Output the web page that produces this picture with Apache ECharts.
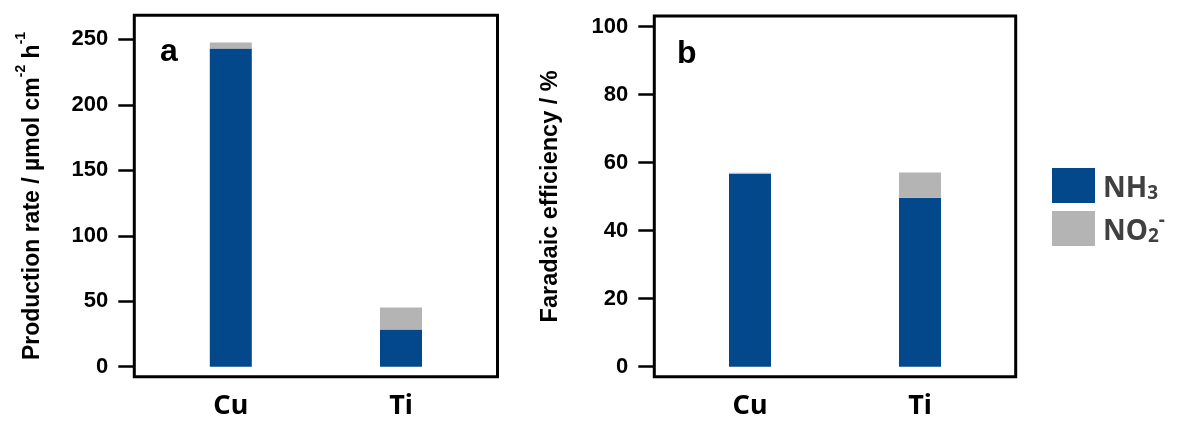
<!DOCTYPE html>
<html>
<head>
<meta charset="utf-8">
<script src="https://cdn.jsdelivr.net/npm/echarts@6/dist/echarts.min.js"></script>
<style>
html,body{margin:0;padding:0;background:#fff;}
#chart{width:1181px;height:422px;}
</style>
</head>
<body>
<div id="chart"></div>
<script>
// ---- data ----
const categories = ['Cu', 'Ti'];
const rateNH3 = [243, 28.5];      // µmol cm-2 h-1
const rateNO2 = [4.5, 16.8];
const feNH3 = [56.7, 49.7];       // %
const feNO2 = [0.3, 7.4];
const rateTicks = [0, 50, 100, 150, 200, 250];
const feTicks = [0, 20, 40, 60, 80, 100];
const seriesNames = ['NH3', 'NO2'];

// ---- style ----
const BLUE = '#03488B';
const GRAY = '#B4B4B4';
const AX_FONT = "'Liberation Sans', Arial, sans-serif";
const CAT_FONT = "'Noto Sans', 'Open Sans', sans-serif";

// frame axis (ticks, labels, name) on the bordered grid
function frameY(grid, min, max, ticks, name, nameGap, nameSize, rich) {
  const ax = {
    gridIndex: grid, type: 'value', min: min, max: max,
    axisLine: { show: false, onZero: false },
    splitLine: { show: false },
    axisTick: { show: true, customValues: ticks, length: 16, lineStyle: { color: '#000', width: 2.5 } },
    axisLabel: { customValues: ticks, margin: 26, fontSize: 22, fontWeight: 'bold', color: '#000', fontFamily: AX_FONT },
    name: name, nameLocation: 'middle', nameGap: nameGap, nameRotate: 90,
    nameTextStyle: { fontSize: nameSize, fontWeight: 'bold', color: '#000', fontFamily: AX_FONT }
  };
  if (rich) ax.nameTextStyle.rich = rich;
  return ax;
}
function hiddenY(grid, min, max) {
  return { gridIndex: grid, type: 'value', min: min, max: max, show: false, splitLine: { show: false } };
}
function hiddenX(grid) {
  return { gridIndex: grid, type: 'value', min: 0, max: 1, show: false, splitLine: { show: false } };
}
function catX(grid) {
  return {
    gridIndex: grid, type: 'category', data: categories, boundaryGap: true,
    axisLine: { show: false }, axisTick: { show: false }, splitLine: { show: false },
    axisLabel: { margin: 16, fontSize: 27, fontWeight: 'bold', color: '#000', fontFamily: CAT_FONT }
  };
}

const nameRich = {
  n: { fontSize: 23, fontWeight: 'bold', color: '#000', fontFamily: AX_FONT, lineHeight: 30, verticalAlign: 'bottom' },
  s: { fontSize: 14, fontWeight: 'bold', color: '#000', fontFamily: AX_FONT, lineHeight: 30, verticalAlign: 'top' }
};

const A_MIN = -7.6, A_MAX = 268.3;
const B_MIN = -2.94, B_MAX = 103.1;

const option = {
  animation: false,
  backgroundColor: '#fff',
  title: [
    { text: 'a', left: 160, top: 36, padding: 0, textStyle: { fontSize: 32, fontWeight: 'bold', color: '#000', fontFamily: AX_FONT } },
    { text: 'b', left: 677, top: 38, padding: 0, textStyle: { fontSize: 32, fontWeight: 'bold', color: '#000', fontFamily: AX_FONT } }
  ],
  legend: {
    orient: 'vertical', left: 1052, top: 168, padding: 0,
    itemWidth: 43, itemHeight: 35, itemGap: 8,
    icon: 'rect',
    data: seriesNames,
    formatter: n => n === 'NH3' ? '{m|NH}{s|3}' : '{m|NO}{s|2}{p|-}',
    textStyle: {
      padding: [0, 0, 0, 3],
      rich: {
        m: { fontSize: 28, fontWeight: 'bold', color: '#404040', fontFamily: CAT_FONT, lineHeight: 35, verticalAlign: 'bottom' },
        s: { fontSize: 19, fontWeight: 'bold', color: '#404040', fontFamily: CAT_FONT, lineHeight: 35, verticalAlign: 'bottom' },
        p: { fontSize: 19, fontWeight: 'bold', color: '#404040', fontFamily: CAT_FONT, lineHeight: 35, verticalAlign: 'top' }
      }
    }
  },
  grid: [
    // frames
    { left: 134.3, top: 15.3, width: 363.2, height: 361.4, show: true, borderColor: '#000', borderWidth: 3, backgroundColor: 'transparent' },
    { left: 654.3, top: 16, width: 361.4, height: 360.7, show: true, borderColor: '#000', borderWidth: 3, backgroundColor: 'transparent' },
    // data areas
    { left: 145.7, top: 15.3, width: 340.4, height: 361.4 },
    { left: 665, top: 16, width: 340, height: 360.7 }
  ],
  xAxis: [hiddenX(0), hiddenX(1), catX(2), catX(3)],
  yAxis: [
    frameY(0, A_MIN, A_MAX, rateTicks, '{n|Production rate / µmol cm}{s|-2}{n| h}{s|-1}', 90, 23, nameRich),
    frameY(1, B_MIN, B_MAX, feTicks, 'Faradaic efficiency / %', 92, 23.5),
    hiddenY(2, A_MIN, A_MAX),
    hiddenY(3, B_MIN, B_MAX)
  ],
  series: [
    { name: 'NH3', type: 'bar', xAxisIndex: 2, yAxisIndex: 2, stack: 'a', barWidth: 42, itemStyle: { color: BLUE }, data: rateNH3 },
    { name: 'NO2', type: 'bar', xAxisIndex: 2, yAxisIndex: 2, stack: 'a', barWidth: 42, itemStyle: { color: GRAY }, data: rateNO2 },
    { name: 'NH3', type: 'bar', xAxisIndex: 3, yAxisIndex: 3, stack: 'b', barWidth: 42, itemStyle: { color: BLUE }, data: feNH3 },
    { name: 'NO2', type: 'bar', xAxisIndex: 3, yAxisIndex: 3, stack: 'b', barWidth: 42, itemStyle: { color: GRAY }, data: feNO2 }
  ]
};

const chart = echarts.init(document.getElementById('chart'), null, { renderer: 'canvas' });
chart.setOption(option);
</script>
</body>
</html>
